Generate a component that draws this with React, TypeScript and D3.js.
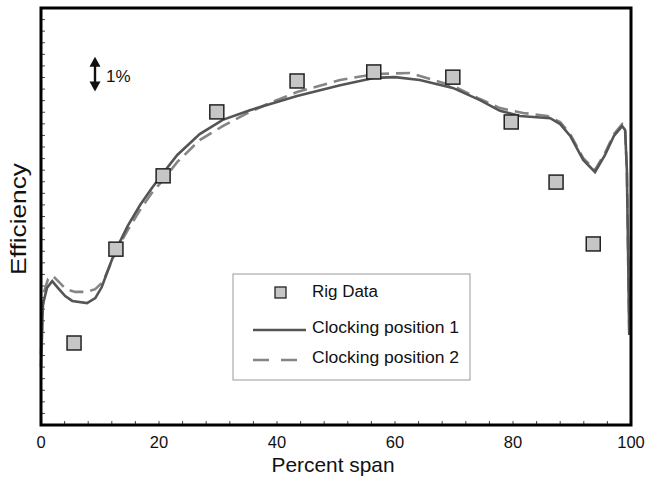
import React, { useEffect } from 'react';
import * as d3 from 'd3';

// percent span / efficiency (%)
const rigSpan = [5.6, 12.7, 20.7, 29.8, 43.4, 56.4, 69.8, 79.7, 87.3, 93.6];
const rigEff = [82.36, 85.06, 87.17, 89.01, 89.9, 90.16, 90.01, 88.72, 86.99, 85.21];

const pos1Span = [0, 0.2, 0.3, 1.0, 1.9, 2.9, 4.1, 5.3, 7.8, 9.2, 10.3, 12.0, 12.7, 14.7, 16.8, 18.8, 20.7, 23.1, 26.9, 30.8, 35.4, 43.4, 50.7, 56.6, 60.0, 64.2, 69.8, 74.4, 77.8, 81.2, 86.3, 88.0, 89.7, 91.9, 93.9, 95.6, 97.1, 98.5, 99.0, 99.3, 99.5, 99.7];
const pos1Eff = [81.67, 82.73, 83.45, 83.94, 84.14, 83.94, 83.71, 83.57, 83.51, 83.65, 83.97, 84.75, 85.04, 85.73, 86.33, 86.82, 87.25, 87.77, 88.37, 88.78, 89.06, 89.47, 89.78, 89.99, 90.01, 89.93, 89.7, 89.35, 89.04, 88.89, 88.83, 88.66, 88.32, 87.63, 87.28, 87.77, 88.32, 88.6, 88.49, 87.34, 85.04, 82.59];

const pos2Span = [0, 0.2, 0.5, 1.2, 2.0, 2.9, 4.2, 5.8, 7.6, 9.2, 10.5, 12.0, 12.7, 14.7, 16.8, 18.8, 20.7, 23.1, 26.9, 30.8, 35.4, 38.8, 43.4, 50.7, 56.6, 62.5, 67.6, 69.8, 74.4, 77.8, 81.7, 85.8, 88.0, 89.7, 91.9, 93.9, 95.6, 97.1, 98.5, 99.0, 99.3, 99.5, 99.7];
const pos2Eff = [82.01, 83.08, 83.83, 84.2, 84.29, 84.14, 83.91, 83.83, 83.83, 83.91, 84.12, 84.72, 85.01, 85.61, 86.19, 86.68, 87.05, 87.57, 88.2, 88.6, 89.01, 89.27, 89.58, 89.93, 90.1, 90.13, 89.87, 89.76, 89.38, 89.12, 88.98, 88.89, 88.72, 88.37, 87.68, 87.34, 87.83, 88.37, 88.66, 88.55, 87.34, 85.04, 82.73];

const xTickLabels = [0, 20, 40, 60, 80, 100];

const W = 647;
const H = 478;
const font = 'Liberation Sans, Arial, sans-serif';

const App = () => {
  useEffect(() => {
    document.body.style.margin = '0';
  }, []);

  const x = d3.scaleLinear().domain([0, 100]).range([41, 631]);
  const y = d3.scaleLinear().domain([80, 92]).range([425, 8]);

  const line = d3
    .line<[number, number]>()
    .x((d) => x(d[0]))
    .y((d) => y(d[1]))
    .curve(d3.curveLinear);

  const p1 = line(pos1Span.map((s, i) => [s, pos1Eff[i]]));
  const p2 = line(pos2Span.map((s, i) => [s, pos2Eff[i]]));

  const xMinor = d3.range(4, 100, 4);
  const yMinor = d3.range(1, 36).map((k) => 80 + k / 3);

  // 1% scale bar
  const arrowX = 95;
  const aTop = y(90.6);
  const aBot = y(89.6);

  return (
    <svg width={W} height={H} style={{ display: 'block', background: '#fff' }} fontFamily={font}>
      {xMinor.map((t) => (
        <line key={'xt' + t} x1={x(t)} x2={x(t)} y1={425} y2={421} stroke="#444" strokeWidth={1} />
      ))}
      {yMinor.map((t, i) => (
        <line key={'yt' + i} x1={41} x2={45} y1={y(t)} y2={y(t)} stroke="#444" strokeWidth={1} />
      ))}

      <path d={p2 || ''} fill="none" stroke="#858585" strokeWidth={2.6} strokeDasharray="14,7" />
      <path d={p1 || ''} fill="none" stroke="#555" strokeWidth={2.6} />

      {rigSpan.map((s, i) => (
        <rect
          key={'r' + i}
          x={x(s) - 7}
          y={y(rigEff[i]) - 7}
          width={14}
          height={14}
          fill="#c6c6c6"
          stroke="#222"
          strokeWidth={1.5}
        />
      ))}

      <rect x={41} y={8} width={590} height={417} fill="none" stroke="#000" strokeWidth={3} />

      {xTickLabels.map((t) => (
        <text key={'xl' + t} x={x(t)} y={448} fontSize={16.5} textAnchor="middle" fill="#111">
          {t}
        </text>
      ))}
      <text x={333} y={472} fontSize={21} textAnchor="middle" fill="#111" textLength={123} lengthAdjust="spacingAndGlyphs">
        Percent span
      </text>
      <text
        transform="translate(26,219) rotate(-90)"
        fontSize={22}
        textAnchor="middle"
        fill="#111"
        textLength={112}
        lengthAdjust="spacingAndGlyphs"
      >
        Efficiency
      </text>

      <line x1={arrowX} x2={arrowX} y1={aTop + 8} y2={aBot - 8} stroke="#111" strokeWidth={2.4} />
      <path d={`M${arrowX - 5.5},${aTop + 10} L${arrowX},${aTop} L${arrowX + 5.5},${aTop + 10} Z`} fill="#111" />
      <path d={`M${arrowX - 5.5},${aBot - 10} L${arrowX},${aBot} L${arrowX + 5.5},${aBot - 10} Z`} fill="#111" />
      <text x={106} y={82} fontSize={17} fill="#111">
        1%
      </text>

      <rect x={233} y={274} width={237} height={106} fill="#fff" stroke="#999" strokeWidth={1} />
      <rect x={275} y={287} width={11} height={11} fill="#c6c6c6" stroke="#222" strokeWidth={1.3} />
      <text x={312} y={297} fontSize={16} fill="#111" textLength={66} lengthAdjust="spacingAndGlyphs">
        Rig Data
      </text>
      <line x1={253} x2={306} y1={330} y2={330} stroke="#555" strokeWidth={2.6} />
      <text x={312} y={333} fontSize={16} fill="#111" textLength={147} lengthAdjust="spacingAndGlyphs">
        Clocking position 1
      </text>
      <line x1={253} x2={306} y1={360} y2={360} stroke="#858585" strokeWidth={2.6} strokeDasharray="16,12" />
      <text x={312} y={363} fontSize={16} fill="#111" textLength={147} lengthAdjust="spacingAndGlyphs">
        Clocking position 2
      </text>
    </svg>
  );
};

export default App;
